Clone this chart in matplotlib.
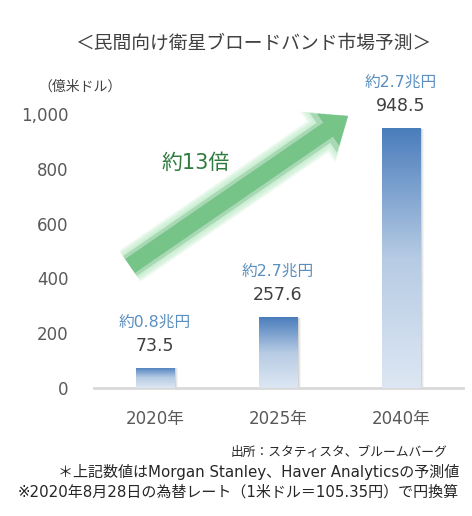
import matplotlib
matplotlib.use("Agg")
import matplotlib.pyplot as plt
import numpy as np
from matplotlib.colors import LinearSegmentedColormap
from matplotlib.patches import FancyArrow, Rectangle
from matplotlib.transforms import IdentityTransform

plt.rcParams['font.family'] = ['Noto Sans CJK JP', 'DejaVu Sans']
MIX = ['DejaVu Sans', 'Noto Sans CJK JP']

# ---- data ----
categories = ["2020年", "2025年", "2040年"]
values = [73.5, 257.6, 948.5]
value_labels = ["73.5", "257.6", "948.5"]
yen_labels = ["約0.8兆円", "約2.7兆円", "約2.7兆円"]
yticks = [0, 200, 400, 600, 800, 1000]
ytick_labels = ["0", "200", "400", "600", "800", "1,000"]
title = "＜民間向け衛星ブロードバンド市場予測＞"
unit_label = "（億米ドル）"
growth_label = "約13倍"
notes = ["出所：スタティスタ、ブルームバーグ",
         "＊上記数値はMorgan Stanley、Haver Analyticsの予測値",
         "※2020年8月28日の為替レート（1米ドル＝105.35円）で円換算"]

W, H = 472, 516
fig = plt.figure(figsize=(W / 100, H / 100), dpi=100)
fig.patch.set_facecolor("white")

ax = fig.add_axes([93.5 / W, (H - 388) / H, 369 / W, 274 / H])
ax.set_xlim(-0.5, 2.5)
ax.set_ylim(0, 1000)

x = np.arange(len(categories))
bw = 0.31
cmap = LinearSegmentedColormap.from_list("g", ["#dde7f3", "#b6cbe4", "#4a7dbc"])
grad = np.linspace(0, 1, 256).reshape(-1, 1)

# shadows
for xi, v in zip(x, values):
    for k, a in enumerate([0.18, 0.12, 0.07]):
        sh = Rectangle((xi - bw / 2 + 0.012 + k * 0.008, 0), bw, v * 0.995,
                       facecolor="#7f7f7f", edgecolor="none", alpha=a, zorder=1)
        ax.add_patch(sh)

bars = ax.bar(x, values, width=bw, color="white", edgecolor="none", zorder=2)
for b in bars:
    x0, y0 = b.get_x(), b.get_y()
    im = ax.imshow(grad, cmap=cmap, aspect="auto", origin="lower",
                   extent=[x0, x0 + b.get_width(), y0, y0 + b.get_height()],
                   zorder=3)
    im.set_clip_path(b)

ax.set_xlim(-0.5, 2.5)
ax.set_ylim(0, 1000)

for xi, v, vl, yl in zip(x, values, value_labels, yen_labels):
    ax.annotate(vl, (xi, v), xytext=(0, 22), textcoords="offset pixels",
                ha="center", va="center", fontsize=12.5, color="#404040",
                family=MIX, annotation_clip=False)
    ax.annotate(yl, (xi, v), xytext=(0, 46), textcoords="offset pixels",
                ha="center", va="center", fontsize=11.3, color="#5b8fbf",
                family=MIX, annotation_clip=False)

ax.set_yticks(yticks)
ax.set_yticklabels(ytick_labels, family=MIX)
ax.set_xticks(x)
ax.set_xticklabels(categories, family=MIX)
ax.tick_params(axis="both", length=0, labelsize=12, colors="#595959")
ax.tick_params(axis="y", pad=18)
ax.tick_params(axis="x", pad=16)
for s in ["top", "right", "left"]:
    ax.spines[s].set_visible(False)
ax.spines["bottom"].set_color("#d9d9d9")
ax.spines["bottom"].set_linewidth(2)

# title & unit
fig.text(253 / W, 1 - 43 / H, title, ha="center", va="center",
         fontsize=13.5, color="#404040")
fig.text(80 / W, 1 - 87 / H, unit_label, ha="center", va="center",
         fontsize=10, color="#404040")


def fx(px):
    return px / W


def fy(py):
    return 1 - py / H


# arrow with soft glow
sx, sy = 130, 266
ex, ey = 348, 116
dx, dy = ex - sx, ey - sy
n = 10
for i in range(n):
    w = 38 - i * 1.4
    hw = 62 - i * 1.4
    arr = FancyArrow(sx, H - sy, dx, -dy, width=w, head_width=hw,
                     head_length=hw * 0.6, length_includes_head=True,
                     color="#b8ecc4", alpha=0.12, zorder=5, linewidth=0)
    arr.set_transform(IdentityTransform())
    fig.add_artist(arr)
for w, hw, c in [(24, 48, "#a9d8b5"), (17, 39, "#77c489")]:
    arr = FancyArrow(sx, H - sy, dx, -dy, width=w, head_width=hw,
                     head_length=hw * 0.62, length_includes_head=True,
                     color=c, zorder=6, linewidth=0)
    arr.set_transform(IdentityTransform())
    fig.add_artist(arr)

fig.text(fx(196), fy(163), growth_label, ha="center", va="center",
         fontsize=15, color="#2f7a3e", family=MIX)

# notes
note_pos = [(447, 452), (459, 472), (459, 492)]
note_sizes = [9.2, 10.8, 10.8]
for t, (px, py), fs in zip(notes, note_pos, note_sizes):
    fig.text(fx(px), fy(py), t, ha="right", va="center", fontsize=fs,
             color="#262626", family=MIX)

fig.savefig("out.png", dpi=100, facecolor="white")
